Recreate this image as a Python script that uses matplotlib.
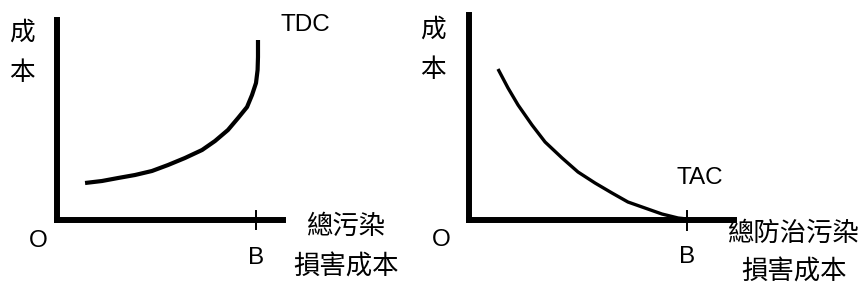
import matplotlib
matplotlib.use("Agg")
import matplotlib.pyplot as plt

plt.rcParams['font.family'] = ['Noto Sans CJK TC', 'DejaVu Sans']

W, H = 862, 289

# Left panel: Total damage cost (TDC) curve, x in units where B = 10
tdc_x = [1.41, 2.26, 3.07, 3.92, 4.77, 5.58, 6.43, 7.29, 7.94, 8.59,
         9.10, 9.55, 9.80, 10.00, 10.08, 10.10, 10.10]
tdc_y = [1.85, 1.95, 2.10, 2.25, 2.45, 2.75, 3.10, 3.50, 3.95, 4.50,
         5.10, 5.65, 6.25, 6.85, 7.50, 8.15, 9.00]

# Right panel: Total abatement cost (TAC) curve
tac_x = [1.33, 1.79, 2.25, 2.89, 3.49, 4.27, 5.00, 5.78, 6.56, 7.29,
         8.07, 8.85, 9.59, 10.00]
tac_y = [7.55, 6.60, 5.75, 4.75, 3.90, 3.10, 2.40, 1.85, 1.35, 0.90,
         0.60, 0.30, 0.10, 0.05]

B_pos = 10
y_label = ['成', '本']
left_xlabel = ['總污染', '損害成本']
right_xlabel = ['總防治污染', '損害成本']

fig = plt.figure(figsize=(W / 100, H / 100), dpi=100)


def make_axes(x0, x1, ytop, ybot, xmax, ymax):
    ax = fig.add_axes([x0 / W, (H - ybot) / H, (x1 - x0) / W, (ybot - ytop) / H])
    ax.set_xlim(0, xmax)
    ax.set_ylim(0, ymax)
    for s in ['top', 'right']:
        ax.spines[s].set_visible(False)
    for s in ['left', 'bottom']:
        ax.spines[s].set_linewidth(4.3)
        ax.spines[s].set_color('black')
        ax.spines[s].set_capstyle('projecting')
    ax.set_xticks([])
    ax.set_yticks([])
    ax.patch.set_alpha(0)
    return ax


def ftext(x, y, s, size=19, family=None, **kw):
    kwargs = dict(ha='center', va='center', fontsize=size)
    if family:
        kwargs['family'] = family
    kwargs.update(kw)
    fig.text(x / W, (H - y) / H, s, **kwargs)


# Left
axL = make_axes(57, 283, 20, 220, (283 - 57) / 19.9, 10)
axL.plot(tdc_x, tdc_y, color='black', lw=3.0, solid_capstyle='butt',
         solid_joinstyle='round')
axL.plot([B_pos, B_pos], [-0.45, 0.45], color='black', lw=1.4, clip_on=False)

# Right
axR = make_axes(469, 734, 15, 220, (734 - 469) / 21.8, 10.25)
axR.plot(tac_x, tac_y, color='black', lw=2.4, solid_capstyle='butt',
         solid_joinstyle='round')
axR.plot([B_pos, B_pos], [-0.5, 0.45], color='black', lw=1.4, clip_on=False)

lat = ['Liberation Sans', 'DejaVu Sans']
# Left texts
ftext(22, 33, y_label[0], size=18.5)
ftext(22, 73, y_label[1], size=18.5)
ftext(305, 25, 'TDC', size=17.5, family=lat)
ftext(38, 241, 'O', size=17.5, family=lat)
ftext(256, 258, 'B', size=17.5, family=lat)
ftext(346, 226, left_xlabel[0])
ftext(346, 267, left_xlabel[1])

# Right texts
ftext(433, 30, y_label[0], size=18.5)
ftext(433, 70, y_label[1], size=18.5)
ftext(700, 178, 'TAC', size=17.5, family=lat)
ftext(441, 240, 'O', size=17.5, family=lat)
ftext(687, 257, 'B', size=17.5, family=lat)
ftext(793, 233, right_xlabel[0])
ftext(794, 272, right_xlabel[1])

fig.savefig('out.png', dpi=100, facecolor='white')
